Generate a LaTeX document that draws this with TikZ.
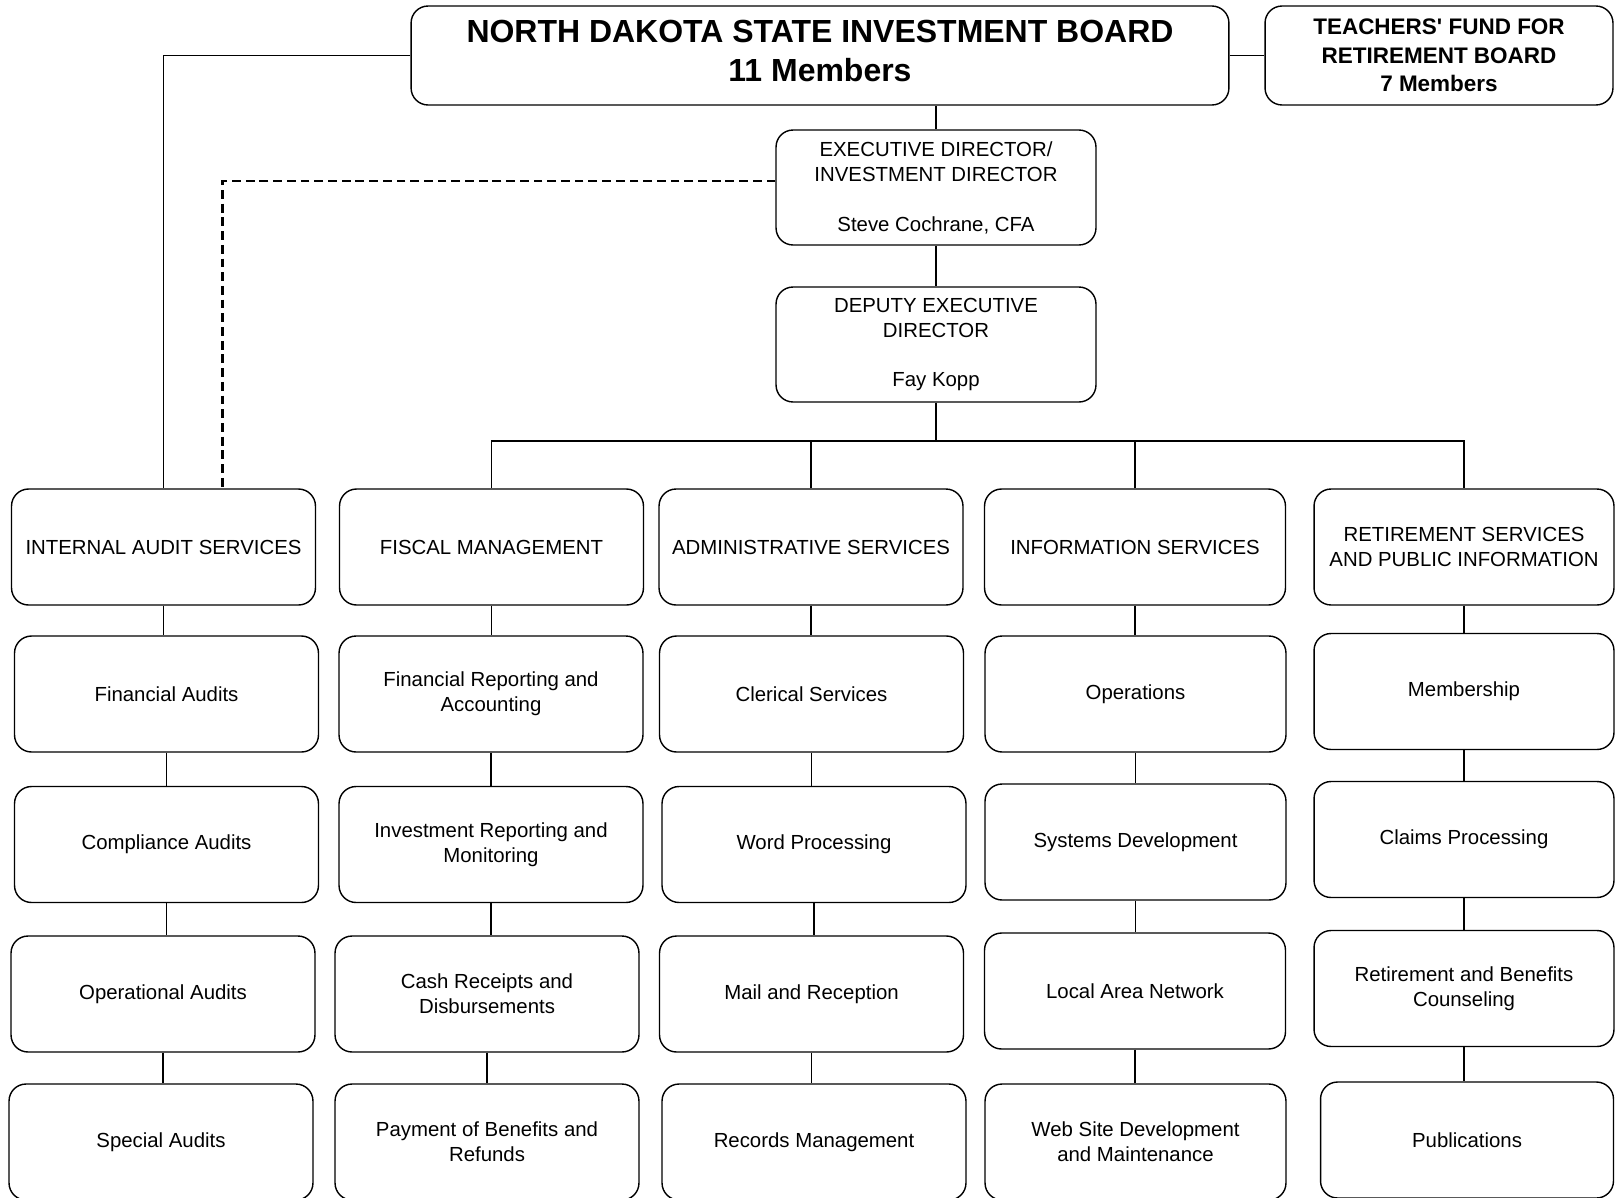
\documentclass[tikz,border=0pt]{standalone}
\usepackage{fontspec}
\setmainfont{Liberation Sans}
\newcommand\unitfont{\fontsize{11.6}{14.2}\selectfont}
\begin{document}
\begin{tikzpicture}[x=0.02cm, y=-0.02cm,
  box/.style={draw, line width=0.8pt, rounded corners=0.34cm, align=center},
  unit/.style={box, minimum width=6.08cm, minimum height=2.32cm, font=\unitfont},
  link/.style={line width=0.8pt}]
\clip (0,0) rectangle (1615,1197);
% boards
\node [box, minimum width=16.36cm, minimum height=1.98cm, font=\fontsize{18.2}{22}\selectfont\bfseries] (board) at (820,55.5) {NORTH DAKOTA STATE INVESTMENT BOARD\\11 Members\\[-16.8pt]};
\node [box, minimum width=6.96cm, minimum height=1.98cm, font=\fontsize{12.8}{16.2}\selectfont\bfseries] (tffr) at (1439,55.5) {TEACHERS\textquotesingle\ FUND FOR\\RETIREMENT BOARD\\7 Members};
% directors
\node [unit, minimum width=6.4cm, minimum height=2.3cm] (exec) at (936,187.5) {EXECUTIVE DIRECTOR/\\INVESTMENT DIRECTOR\\[14.2pt]Steve Cochrane, CFA};
\node [unit, minimum width=6.4cm, minimum height=2.3cm] (dep) at (936,344.5) {DEPUTY EXECUTIVE\\DIRECTOR\\[14.2pt]Fay Kopp};
\coordinate (bus) at (936,441);
% internal audit
\node [unit] (ia) at (163.5,547) {INTERNAL AUDIT SERVICES};
\node [unit] (ia1) at (166.5,694) {Financial Audits};
\node [unit] (ia2) at (166.5,844.5) {Compliance Audits};
\node [unit] (ia3) at (163,994) {Operational Audits};
\node [unit] (ia4) at (161,1142) {Special Audits};
% fiscal
\node [unit] (fm) at (491.5,547) {FISCAL MANAGEMENT};
\node [unit] (fm1) at (491,694) {Financial Reporting and\\Accounting};
\node [unit] (fm2) at (491,844.5) {Investment Reporting and\\Monitoring};
\node [unit] (fm3) at (487,994) {Cash Receipts and\\Disbursements};
\node [unit] (fm4) at (487,1142) {Payment of Benefits and\\Refunds};
% administrative
\node [unit] (as) at (811,547) {ADMINISTRATIVE SERVICES};
\node [unit] (as1) at (811.5,694) {Clerical Services};
\node [unit] (as2) at (814,844.5) {Word Processing};
\node [unit] (as3) at (811.5,994) {Mail and Reception};
\node [unit] (as4) at (814,1142) {Records Management};
% information
\node [unit, minimum width=6.02cm] (is) at (1135,547) {INFORMATION SERVICES};
\node [unit, minimum width=6.02cm] (is1) at (1135.5,694) {Operations};
\node [unit, minimum width=6.02cm] (is2) at (1135.5,842) {Systems Development};
\node [unit, minimum width=6.02cm] (is3) at (1135,991) {Local Area Network};
\node [unit, minimum width=6.02cm] (is4) at (1135.5,1142) {Web Site Development\\and Maintenance};
% retirement
\node [unit, minimum width=6cm] (rs) at (1464,547) {RETIREMENT SERVICES\\AND PUBLIC INFORMATION};
\node [unit, minimum width=6cm] (rs1) at (1464,691.5) {Membership};
\node [unit, minimum width=6cm] (rs2) at (1464,839.5) {Claims Processing};
\node [unit, minimum width=6cm] (rs3) at (1464,988.5) {Retirement and Benefits\\Counseling};
\node [unit, minimum width=5.86cm] (rs4) at (1467,1140) {Publications};
% connectors
\draw [link] (board) -- (tffr);
\draw [link] (board.west) -| (ia.north);
\draw [link] (exec.north) -- (exec.north |- board.south);
\draw [link] (exec) -- (dep);
\draw [line width=1.2pt, dash pattern=on 5pt off 2.8pt] ([yshift=0.13cm]exec.west) -| ([xshift=1.18cm]ia.north);
\draw [link] (dep) -- (bus);
\draw [link] (fm.north) |- (bus) -| (rs.north);
\draw [link] (as.north) -- (as.north |- bus);
\draw [link] (is.north) -- (is.north |- bus);
\foreach \c in {ia,fm,as,is,rs}{
  \draw [link] (\c.south) -- (\c.south |- \c1.north);
  \draw [link] (\c1.south) -- (\c1.south |- \c2.north);
  \draw [link] (\c2.south) -- (\c2.south |- \c3.north);
  \draw [link] (\c3.south) -- (\c3.south |- \c4.north);
}
\end{tikzpicture}
\end{document}
